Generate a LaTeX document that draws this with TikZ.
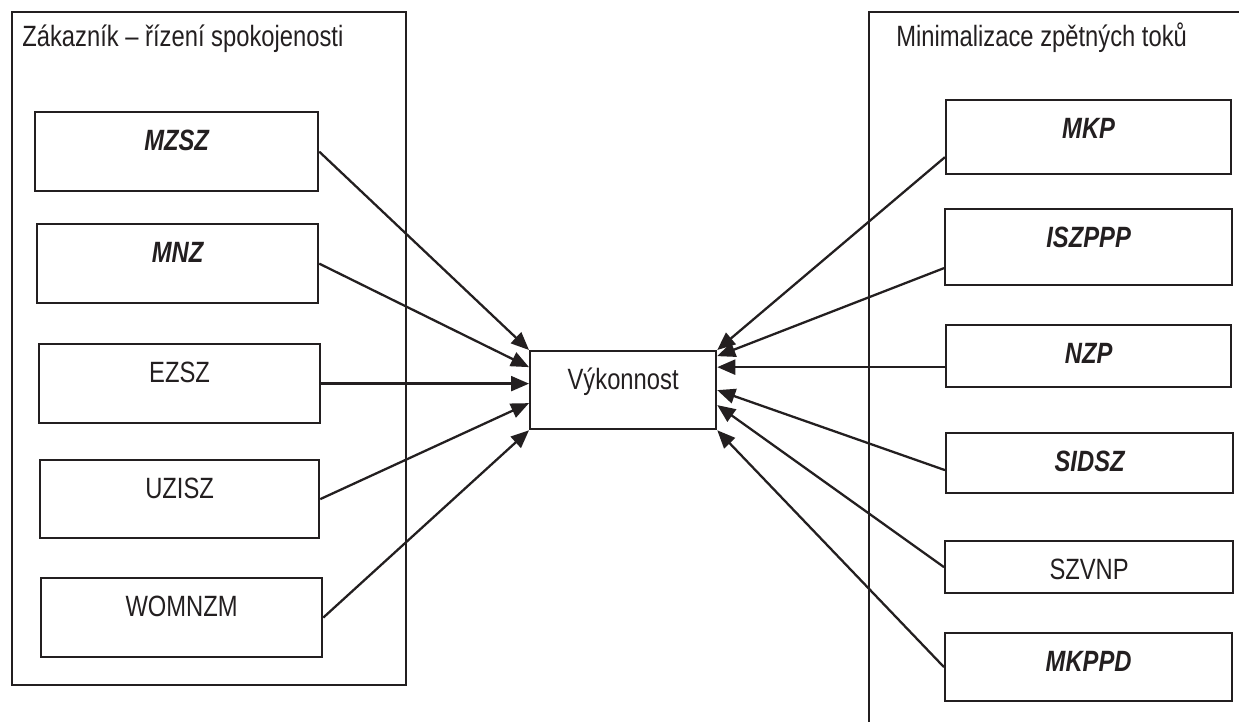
\documentclass[tikz,border=0pt]{standalone}
\usepackage{fontspec}
\setmainfont[FakeStretch=0.81]{Liberation Sans}
\usetikzlibrary{arrows.meta}

\definecolor{ink}{RGB}{35,31,32}
\newcommand\boxfont{\fontsize{16.7}{20}\selectfont}

\tikzset{
  frame/.style={draw=ink, line width=1.3pt},
  box/.style={draw=ink, line width=1.3pt, anchor=north west, inner xsep=0pt,
    inner ysep=0pt, text height=0.77cm},
  key/.style={font=\boxfont\bfseries\itshape},
  arr/.style={draw=ink, line width=1.3pt,
    -{Triangle[length=0.36cm,width=0.3cm]}}
}

\begin{document}
\begin{tikzpicture}[x=0.02cm, y=-0.02cm, text=ink, font=\boxfont]

  \useasboundingbox (0,0) rectangle (1239,722);
  \clip (0,0) rectangle (1239,722);

  % left frame
  \draw[frame] (12,12) rectangle (406,685);
  \node[anchor=base west, inner sep=0pt] (ltitle) at (22,47)
    {Zákazník – řízení spokojenosti};

  \node[box, key, minimum width=5.66cm, text depth=0.81cm] (mzsz)   at (34,111) {MZSZ};
  \node[box, key, minimum width=5.62cm, text depth=0.81cm] (mnz)    at (36,223) {MNZ};
  \node[box,      minimum width=5.62cm, text depth=0.81cm] (ezsz)   at (38,343) {EZSZ};
  \node[box,      minimum width=5.58cm, text depth=0.79cm] (uzisz)  at (39,459) {UZISZ};
  \node[box,      minimum width=5.62cm, text depth=0.81cm] (womnzm) at (40,577) {WOMNZM};

  % right frame (runs off the page)
  \draw[frame] (1260,12) -- (869,12) -- (869,740);
  \node[anchor=base west, inner sep=0pt] (rtitle) at (896,47)
    {Minimalizace zpětných toků};

  \node[box, key, minimum width=5.70cm, text depth=0.71cm] (mkp)    at (945,99)  {MKP};
  \node[box, key, minimum width=5.74cm, text depth=0.75cm] (iszppp) at (944,208) {ISZPPP};
  \node[box, key, minimum width=5.70cm, text depth=0.47cm] (nzp)    at (945,324) {NZP};
  \node[box, key, minimum width=5.74cm, text depth=0.43cm] (sidsz)  at (945,432) {SIDSZ};
  \node[box,      minimum width=5.76cm, text depth=0.27cm] (szvnp)  at (944,540) {SZVNP};
  \node[box, key, minimum width=5.74cm, text depth=0.59cm] (mkppd)  at (944,632) {MKPPD};

  % centre
  \node[box, minimum width=3.72cm, text depth=0.79cm] (vyk) at (529,350) {Výkonnost};

  % left arrows
  \draw[arr] (mzsz.east) -- (vyk.north west);
  \draw[arr] (mnz.east) -- ([yshift=0.46cm]vyk.west);
  \draw[arr] (ezsz.east) -- (ezsz.east -| vyk.west);
  \draw[arr] (uzisz.east) -- ([yshift=-0.26cm]vyk.west);
  \draw[arr] (womnzm.east) -- (vyk.south west);

  % right arrows
  \draw[arr] ([yshift=-0.4cm]mkp.west) -- (vyk.north east);
  \draw[arr] ([yshift=-0.42cm]iszppp.west) -- ([yshift=0.68cm]vyk.east);
  \draw[arr] ([yshift=-0.22cm]nzp.west) -- ([yshift=-0.22cm]nzp.west -| vyk.east);
  \draw[arr] ([yshift=-0.14cm]sidsz.west) -- (vyk.east);
  \draw[arr] (szvnp.west) -- ([yshift=-0.3cm]vyk.east);
  \draw[arr] (mkppd.west) -- (vyk.south east);
\end{tikzpicture}
\end{document}
